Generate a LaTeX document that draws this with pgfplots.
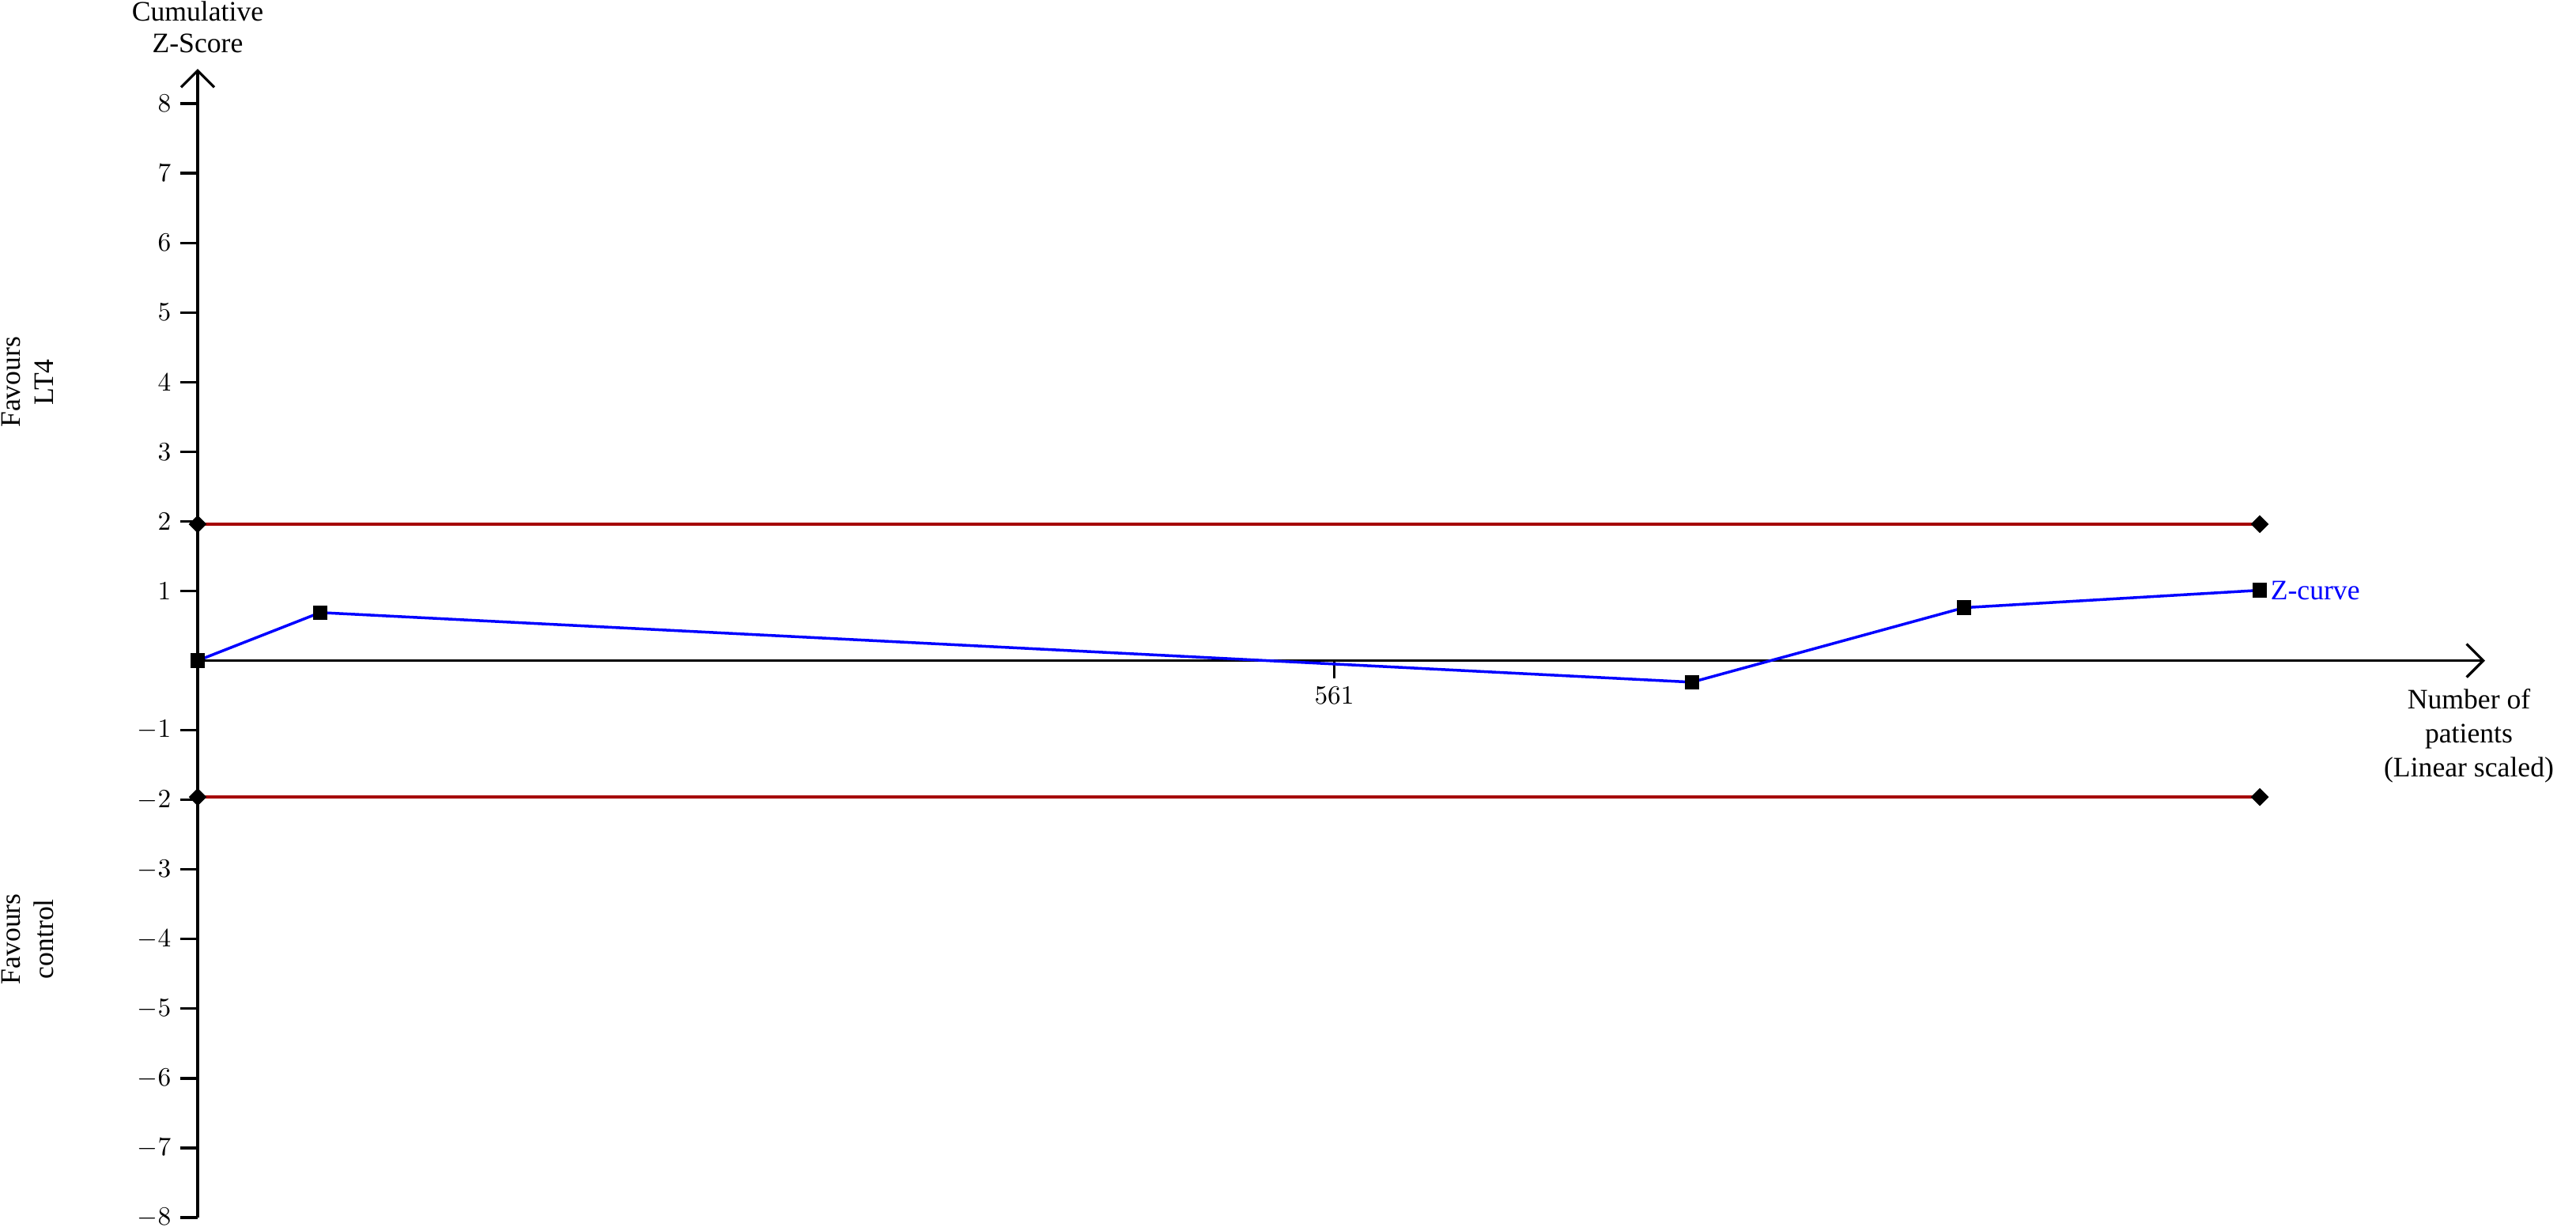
\documentclass[border=0pt]{standalone}
\usepackage{fontspec}
\setmainfont{Liberation Serif}
\usepackage{pgfplots}
\pgfplotsset{compat=1.18}
\usetikzlibrary{arrows.meta}
\definecolor{bnd}{RGB}{165,0,0}
\begin{document}
\begin{tikzpicture}
\begin{axis}[
  at={(0,0)}, anchor=south west,
  scale only axis, width=867.9pt, height=435.9pt,
  xmin=0, xmax=1129, ymin=-8, ymax=8.5,
  axis lines=middle,
  axis line style={line width=1pt, -{Straight Barb[length=6.3pt,width=12.6pt]}},
  xtick={561},
  ytick={-8,-7,-6,-5,-4,-3,-2,-1,1,2,3,4,5,6,7,8},
  tick align=outside, major tick length=6.6pt,
  tick style={line width=1pt, black},
  tick label style={font=\fontsize{10.4}{12}\selectfont},
  clip=false,
]
\addplot[bnd, line width=1pt, mark=square*, mark options={rotate=45, black, solid, mark size=1.9pt}]
  coordinates {(0,1.96) (1017.8,1.96)};
\addplot[bnd, line width=1pt, mark=square*, mark options={rotate=45, black, solid, mark size=1.9pt}]
  coordinates {(0,-1.96) (1017.8,-1.96)};
\addplot[blue, line width=1.05pt, mark=square*, mark options={black, mark size=2.25pt}]
  coordinates {(0,0) (60.5,0.69) (737.5,-0.31) (871.8,0.76) (1017.8,1.01)};
\coordinate (zc) at (axis cs:1017.8,1.01);
\coordinate (nx) at (axis cs:1121,0);
\coordinate (yt) at (axis cs:0,8.5);
\coordinate (lt) at (axis cs:0,4);
\coordinate (ct) at (axis cs:0,-4);
\end{axis}
\node[blue, anchor=west, inner sep=0, font=\fontsize{10.7}{12}\selectfont] at ([xshift=3.9pt]zc) {Z-curve};
\node[align=center, anchor=north, inner sep=0, font=\fontsize{10.7}{13}\selectfont] at ([yshift=-10.5pt]nx) {Number of\\patients\\(Linear scaled)};
\node[align=center, anchor=south, inner sep=0, font=\fontsize{10.7}{11.8}\selectfont] at ([yshift=6pt]yt) {Cumulative\\Z-Score};
\node[rotate=90, align=center, inner sep=0, font=\fontsize{10.7}{12.5}\selectfont] at ([xshift=-64.5pt]lt) {Favours\\LT4};
\node[rotate=90, align=center, inner sep=0, font=\fontsize{10.7}{12.5}\selectfont] at ([xshift=-64.5pt]ct) {Favours\\control};
\pgfresetboundingbox
\path[use as bounding box] (-75pt,-4.8pt) rectangle (902.4pt,462pt);
\end{tikzpicture}
\end{document}
